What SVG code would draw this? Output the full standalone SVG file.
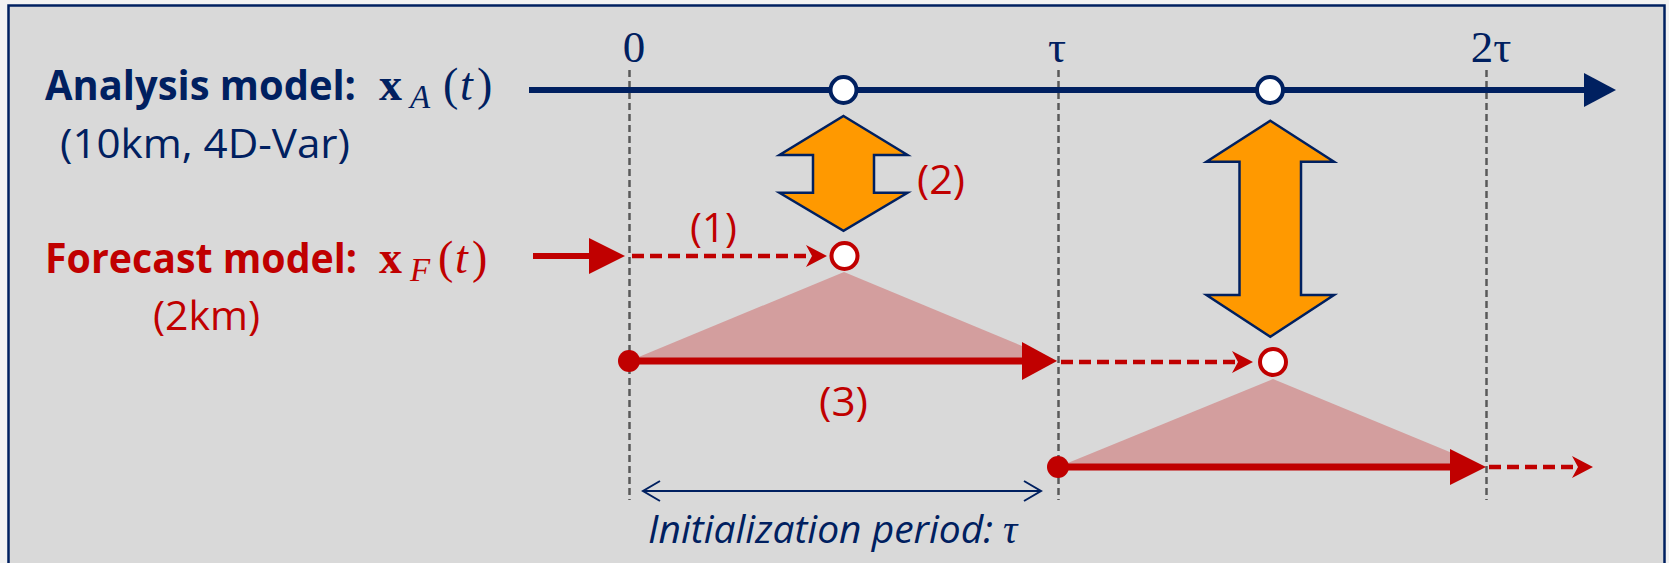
<svg xmlns="http://www.w3.org/2000/svg" width="1669" height="563" viewBox="0 0 1669 563">
  <style>
    .sans { font-family: "Open Sans", "Liberation Sans", sans-serif; }
    .serif { font-family: "Liberation Serif", "DejaVu Serif", serif; }
    .navy { fill: #002060; }
    .red { fill: #c00000; }
    .vdash { stroke: #595959; stroke-width: 2.5; stroke-dasharray: 7 4; fill: none; }
    .orange { fill: #ff9900; stroke: #002060; stroke-width: 2.5; stroke-linejoin: miter; }
    .pink { fill: #d39e9e; }
    .redline { stroke: #c00000; stroke-width: 7; fill: none; }
    .reddash { stroke: #c00000; stroke-width: 4.5; stroke-dasharray: 12 6; fill: none; }
    .ahollow { fill: #ffffff; stroke-width: 4; }
  </style>

  <rect x="0" y="0" width="1669" height="563" fill="#f2f2f2"/>
  <rect id="frame" x="8.5" y="5.5" width="1656" height="600" fill="#d9d9d9" stroke="#002060" stroke-width="2.5"/>

  <!-- time guides -->
  <g id="guides">
    <line class="vdash" x1="629.5" y1="70" x2="629.5" y2="500"/>
    <line class="vdash" x1="1058.5" y1="70" x2="1058.5" y2="500"/>
    <line class="vdash" x1="1486.5" y1="70" x2="1486.5" y2="500"/>
    <text class="serif navy" x="634" y="62" font-size="45" text-anchor="middle">0</text>
    <text class="serif navy" x="1057" y="62" font-size="45" text-anchor="middle">τ</text>
    <text class="serif navy" x="1491" y="62" font-size="45" text-anchor="middle">2τ</text>
  </g>

  <!-- labels -->
  <g id="analysis-label">
    <text class="sans navy" x="45" y="100" font-size="42" font-weight="bold" textLength="311" lengthAdjust="spacingAndGlyphs">Analysis model:</text>
    <text class="serif navy" y="100" font-size="46"><tspan x="379" font-weight="bold">x</tspan><tspan x="410" y="108" font-size="33" font-style="italic">A</tspan><tspan x="443" y="100">(</tspan><tspan x="460" font-style="italic">t</tspan><tspan x="477">)</tspan></text>
    <text class="sans navy" x="60" y="158" font-size="40" textLength="290" lengthAdjust="spacingAndGlyphs">(10km, 4D-Var)</text>
  </g>
  <g id="forecast-label">
    <text class="sans red" x="45" y="273" font-size="42" font-weight="bold" textLength="312" lengthAdjust="spacingAndGlyphs">Forecast model:</text>
    <text class="serif red" y="273" font-size="46"><tspan x="379" font-weight="bold">x</tspan><tspan x="410" y="281" font-size="33" font-style="italic">F</tspan><tspan x="438" y="273">(</tspan><tspan x="455" font-style="italic">t</tspan><tspan x="472">)</tspan></text>
    <text class="sans red" x="153" y="330" font-size="40" textLength="107" lengthAdjust="spacingAndGlyphs">(2km)</text>
  </g>

  <!-- pink spread triangles -->
  <g id="spread-1"><polygon class="pink" points="844,272 1058,361 629,361"/></g>
  <g id="spread-2"><polygon class="pink" points="1273,379 1486,467 1058,467"/></g>

  <!-- connectors -->
  <g id="connectors">
    <!-- analysis timeline -->
    <line x1="529" y1="90" x2="1586" y2="90" stroke="#002060" stroke-width="6"/>
    <polygon points="1584,73 1616,90 1584,107" fill="#002060"/>

    <!-- forecast entry arrow -->
    <line x1="533" y1="256" x2="592" y2="256" stroke="#c00000" stroke-width="6"/>
    <polygon points="589,238 625,256 589,274" fill="#c00000"/>

    <!-- (1) dashed free forecasts -->
    <line class="reddash" x1="632" y1="256" x2="812" y2="256"/>
    <polygon points="806,245 827,256 806,267 812,256" fill="#c00000"/>
    <line class="reddash" x1="1061" y1="362" x2="1238" y2="362"/>
    <polygon points="1232,351 1253,362 1232,373 1238,362" fill="#c00000"/>
    <line class="reddash" x1="1489" y1="467" x2="1578" y2="467"/>
    <polygon points="1572,456 1593,467 1572,478 1578,467" fill="#c00000"/>

    <!-- (3) initialization runs -->
    <line class="redline" x1="629" y1="361" x2="1025" y2="361"/>
    <polygon points="1022,342 1057,361 1022,380" fill="#c00000"/>
    <circle cx="629" cy="361" r="11" fill="#c00000"/>
    <line class="redline" x1="1058" y1="467" x2="1453" y2="467"/>
    <polygon points="1450,449 1486,467 1450,485" fill="#c00000"/>
    <circle cx="1058" cy="467" r="11" fill="#c00000"/>

    <!-- initialization period dimension -->
    <line x1="643" y1="491" x2="1041" y2="491" stroke="#002060" stroke-width="2"/>
    <polyline points="660,481 643,491 660,501" fill="none" stroke="#002060" stroke-width="2"/>
    <polyline points="1024,481 1041,491 1024,501" fill="none" stroke="#002060" stroke-width="2"/>
  </g>

  <!-- nodes -->
  <g id="analysis-1"><circle class="ahollow" cx="843.5" cy="90" r="13" stroke="#002060"/></g>
  <g id="analysis-2"><circle class="ahollow" cx="1270" cy="90" r="13" stroke="#002060"/></g>
  <g id="forecast-1"><circle class="ahollow" cx="844.5" cy="256" r="13" stroke="#c00000" stroke-width="4.5"/></g>
  <g id="forecast-2"><circle class="ahollow" cx="1273" cy="362" r="13" stroke="#c00000" stroke-width="4.5"/></g>

  <g id="update-1">
    <path class="orange" d="M843.5,116 L907.5,155 L874,155 L874,192.7 L907.5,192.7 L843.5,230.7 L779.5,192.7 L813,192.7 L813,155 L779.5,155 Z"/>
  </g>
  <g id="update-2">
    <path class="orange" d="M1270.3,120.7 L1334,161.7 L1301,161.7 L1301,295 L1334,295 L1270.3,336.7 L1206.5,295 L1239.5,295 L1239.5,161.7 L1206.5,161.7 Z"/>
  </g>

  <!-- step labels -->
  <g id="step-labels">
    <text class="sans red" x="690" y="242" font-size="40" textLength="47" lengthAdjust="spacingAndGlyphs">(1)</text>
    <text class="sans red" x="917" y="194" font-size="40" textLength="48" lengthAdjust="spacingAndGlyphs">(2)</text>
    <text class="sans red" x="819" y="416" font-size="40" textLength="49" lengthAdjust="spacingAndGlyphs">(3)</text>
  </g>
  <g id="period-label">
    <text class="sans navy" x="648" y="543" font-size="38" font-style="italic" textLength="345" lengthAdjust="spacingAndGlyphs">Initialization period:</text>
    <text class="serif navy" x="1003" y="543" font-size="40" font-style="italic">τ</text>
  </g>
</svg>
